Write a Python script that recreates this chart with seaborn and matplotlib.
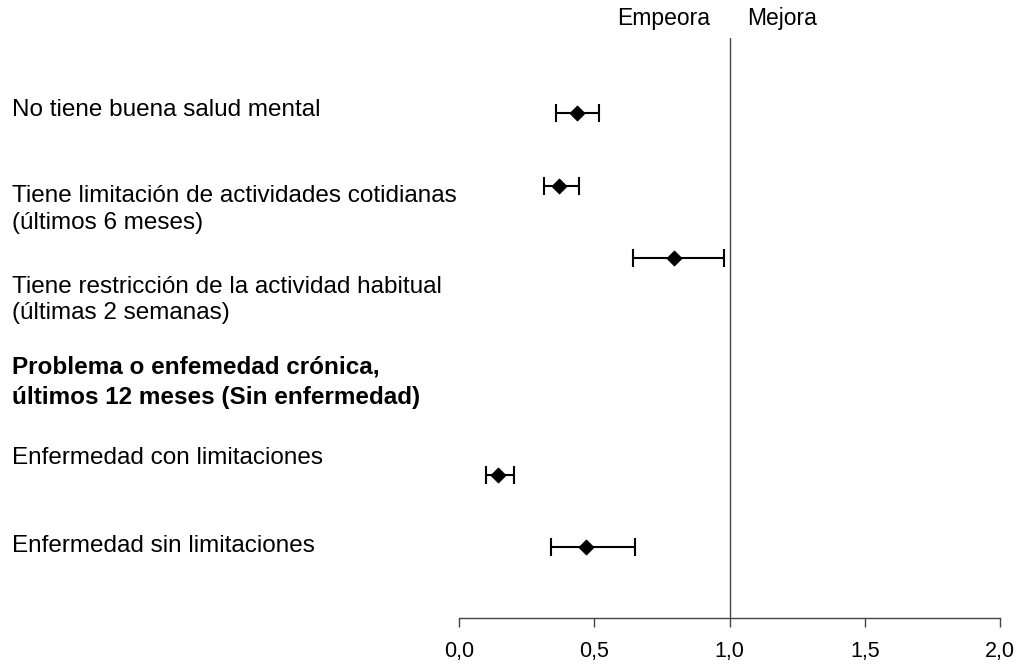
import matplotlib
matplotlib.use("Agg")
import matplotlib.pyplot as plt
import matplotlib.transforms as mtransforms
import seaborn as sns
import pandas as pd

# ---- data ----
categories = [
    "No tiene buena salud mental",
    "Tiene limitación de actividades cotidianas\n(últimos 6 meses)",
    "Tiene restricción de la actividad habitual\n(últimas 2 semanas)",
    "Enfermedad con limitaciones",
    "Enfermedad sin limitaciones",
]
estimate = [0.437, 0.370, 0.796, 0.144, 0.470]
lower = [0.359, 0.315, 0.644, 0.100, 0.340]
upper = [0.518, 0.444, 0.978, 0.204, 0.652]
header = "Problema o enfemedad crónica,\núltimos 12 meses (Sin enfermedad)"
xticks = [0.0, 0.5, 1.0, 1.5, 2.0]
xticklabels = ["0,0", "0,5", "1,0", "1,5", "2,0"]

# ---- layout ----
rows = [0, 1, 2, 5, 6]          # row slot of each point
label_rows = [-0.05, 1.33, 2.58, 4.77, 5.98]  # vertical placement of labels
header_row = 3.72

sns.set_theme(style="white")
plt.rcParams["font.family"] = ["Liberation Sans", "DejaVu Sans"]

FS = 17.5

fig = plt.figure(figsize=(10.2, 6.64), dpi=100)
ax = fig.add_axes([459 / 1020, 1 - 618 / 664, (1000 - 459) / 1020, (618 - 38) / 664])

df = pd.DataFrame({"cat": categories, "est": estimate, "lo": lower, "hi": upper, "row": rows})

ax.errorbar(df["est"], df["row"],
            xerr=[df["est"] - df["lo"], df["hi"] - df["est"]],
            fmt="none", ecolor="black", elinewidth=1.5, capsize=6.5, capthick=1.5, zorder=2)
sns.scatterplot(data=df, x="est", y="row", marker="D", s=60, color="black",
                edgecolor="black", linewidth=0.5, ax=ax, zorder=3, legend=False)

ax.axvline(1.0, color="#444444", linewidth=1.0, zorder=1)

ax.set_xlim(0, 2)
ax.set_ylim(6.98, -1.04)
ax.set_xticks(xticks)
ax.set_xticklabels(xticklabels, fontsize=15.5)
ax.set_yticks([])
ax.set_xlabel("")
ax.set_ylabel("")
for s in ["left", "right", "top"]:
    ax.spines[s].set_visible(False)
ax.spines["bottom"].set_color("#444444")
ax.spines["bottom"].set_linewidth(1.0)
ax.tick_params(axis="x", direction="out", length=6.5, width=1.0, color="#444444",
               bottom=True, pad=10, labelcolor="black")

trans = mtransforms.blended_transform_factory(fig.transFigure, ax.transData)
for lab, r in zip(categories, label_rows):
    ax.text(12 / 1020, r, lab, transform=trans, ha="left", va="center",
            fontsize=FS, color="black", linespacing=1.25)
ax.text(12 / 1020, header_row, header, transform=trans, ha="left", va="center",
        fontsize=FS, fontweight="bold", color="black", linespacing=1.45)

top_trans = mtransforms.blended_transform_factory(ax.transData, fig.transFigure)
ax.text(0.928, 1 - 19 / 664, "Empeora", transform=top_trans,
        ha="right", va="center", fontsize=16.5, color="black")
ax.text(1.065, 1 - 19 / 664, "Mejora", transform=top_trans,
        ha="left", va="center", fontsize=16.5, color="black")

fig.savefig("out.png", dpi=100)
